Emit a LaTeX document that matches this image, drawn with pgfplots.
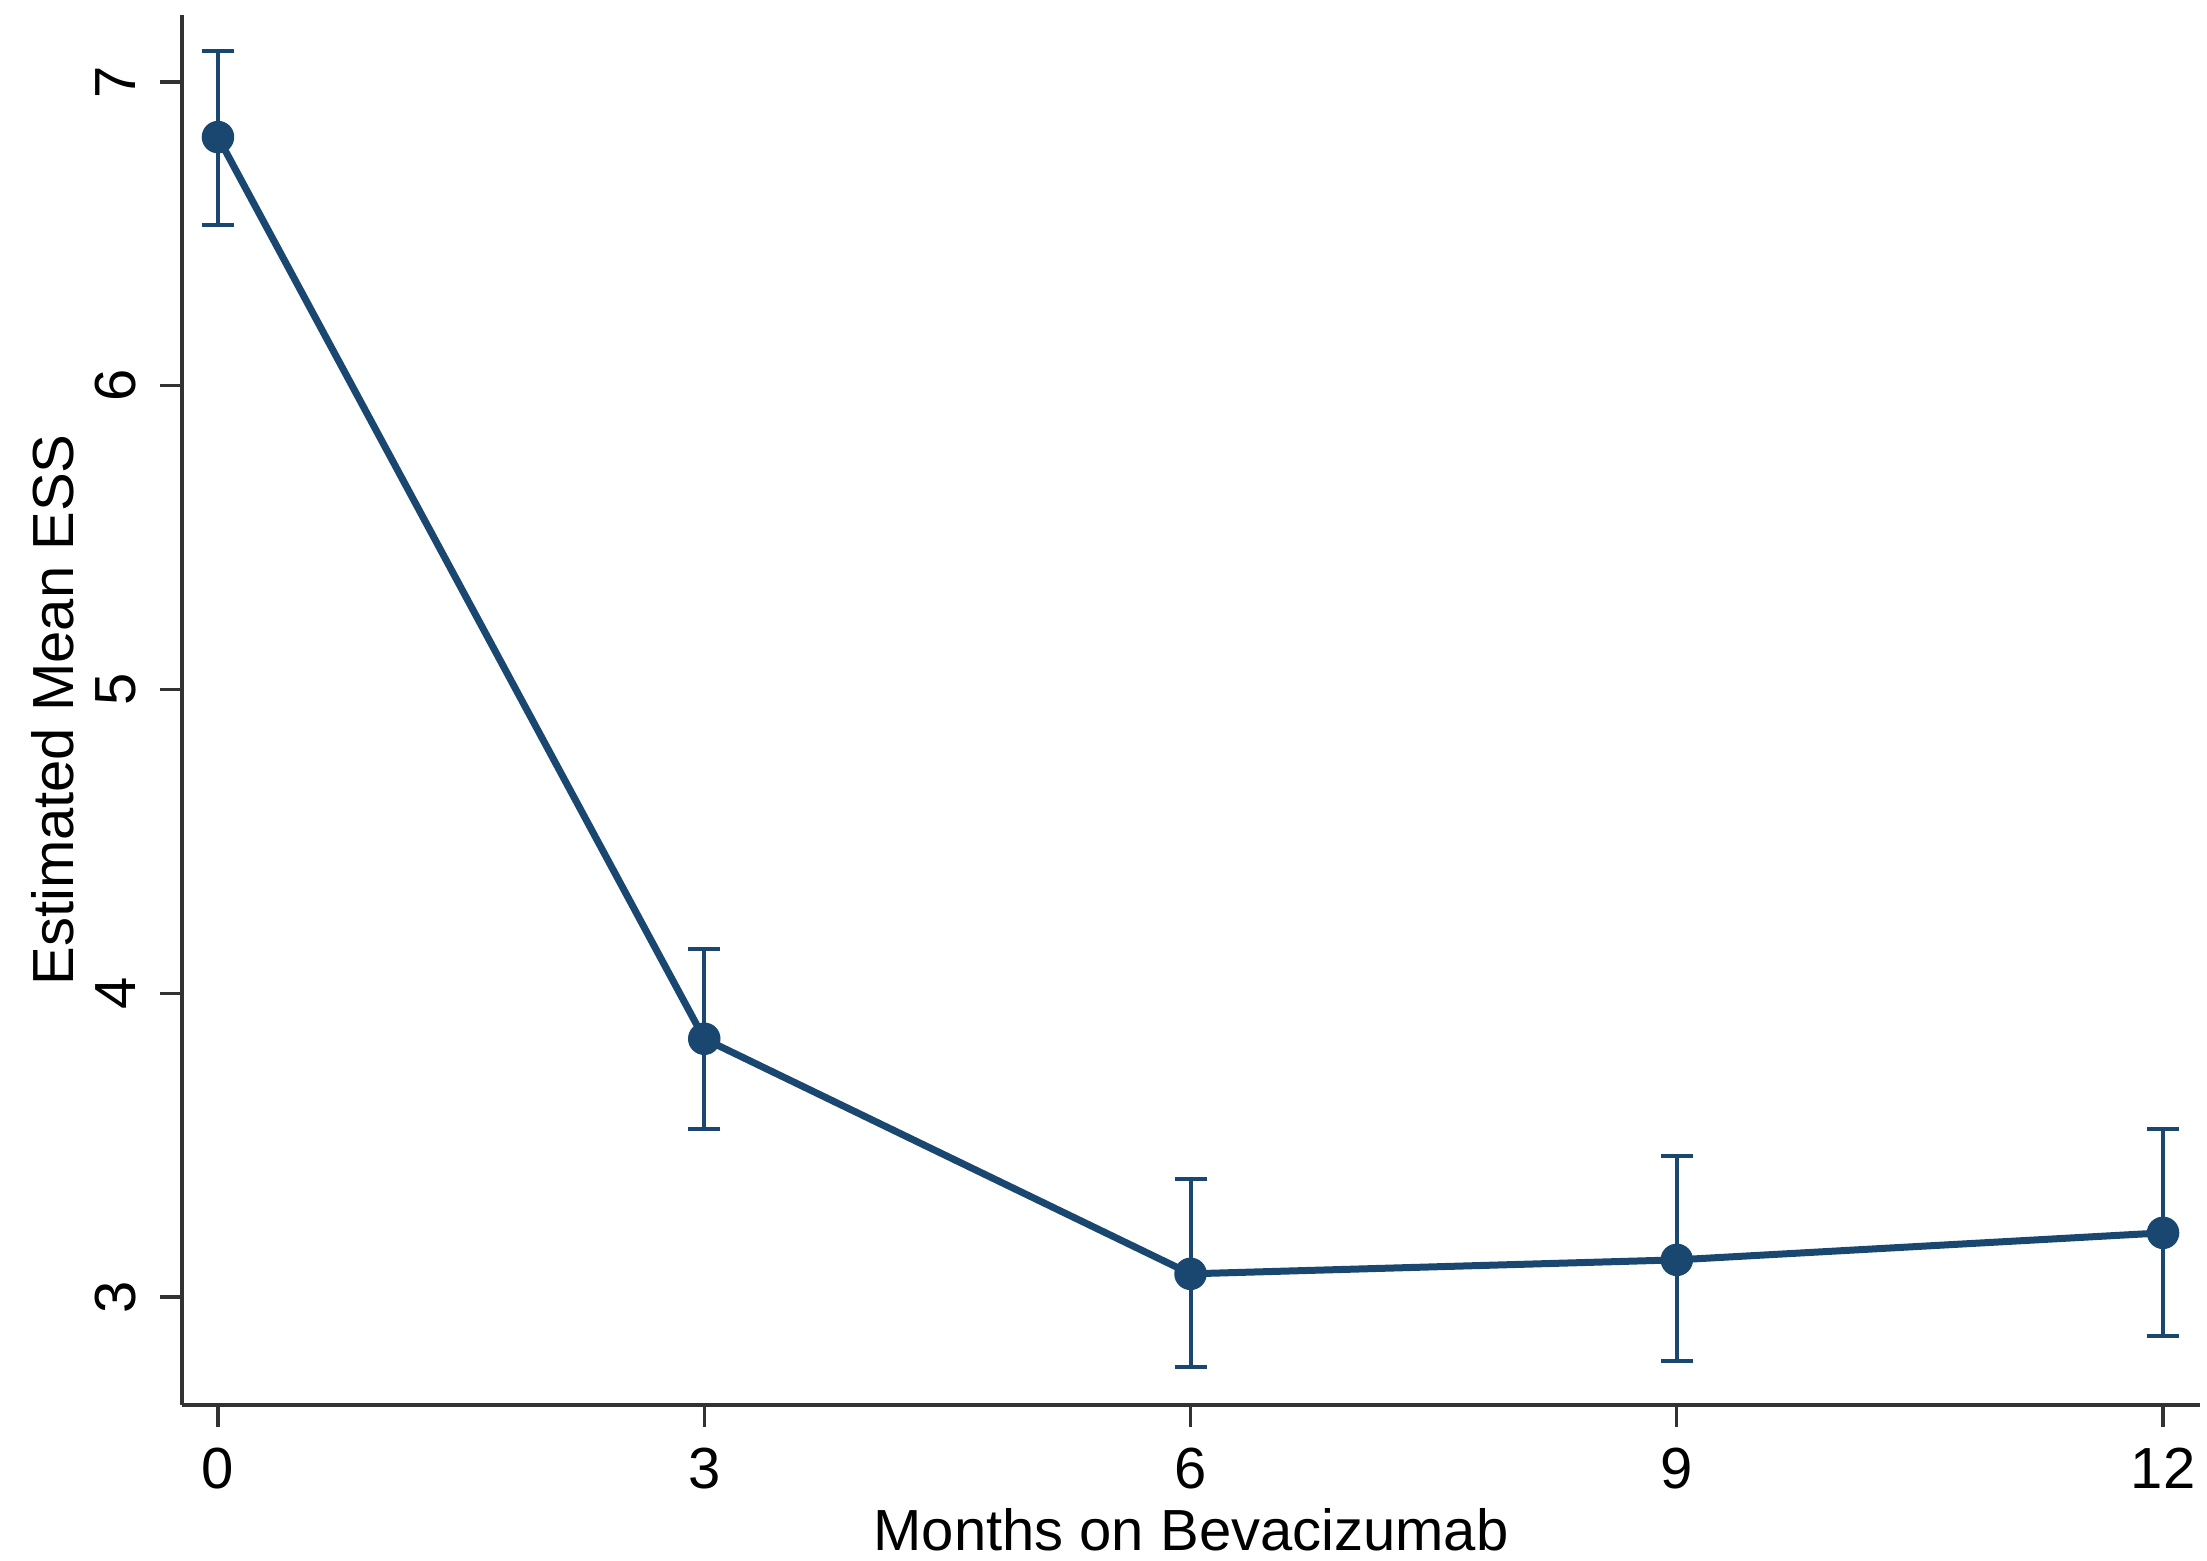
\documentclass[border=0pt]{standalone}
\usepackage{fontspec}
\setmainfont{Liberation Sans}
\usepackage{pgfplots}
\pgfplotsset{compat=1.18}
\definecolor{statanavy}{RGB}{26,71,111}
\definecolor{axgray}{RGB}{50,50,50}
\begin{document}
\begin{tikzpicture}
\begin{axis}[
  scale only axis,
  width=403.6pt, height=278pt,
  xmin=-0.222, xmax=12.228,
  ymin=2.644, ymax=7.221,
  axis x line*=bottom, axis y line*=left,
  axis line style={axgray, line width=0.65pt},
  xtick={0,3,6,9,12}, ytick={3,4,5,6,7},
  tick align=outside, major tick length=4.4pt,
  tick style={axgray, line width=0.65pt},
  /pgf/number format/assume math mode=true,
  tick label style={font=\fontsize{11.6}{14}\selectfont},
  yticklabel style={rotate=90, anchor=south},
  xticklabel shift=0.7pt, yticklabel shift=1.3pt,
  label style={font=\fontsize{11.6}{14}\selectfont},
  xlabel={Months on Bevacizumab},
  ylabel={Estimated Mean ESS},
  xlabel style={at={([yshift=-17.1pt]axis description cs:0.5,0)}, anchor=north},
  ylabel style={at={([xshift=-18.1pt]axis description cs:0,0.5)}, anchor=south, rotate=0},
  clip=false,
]
\addplot[statanavy, draw=none, mark=none,
  error bars/.cd, y dir=both, y explicit,
  error bar style={statanavy, line width=0.8pt},
  error mark options={rotate=90, mark size=3.2pt, statanavy, line width=0.8pt}]
  table[x=x, y=y, y error plus=ep, y error minus=em] {
x  y     ep    em
0  6.819 0.283 0.290
3  3.850 0.297 0.296
6  3.076 0.313 0.307
9  3.122 0.343 0.333
12 3.211 0.343 0.340
};
\addplot[statanavy, line width=1.4pt, mark=*, mark size=3pt,
  mark options={fill=statanavy, draw=statanavy, line width=0.5pt}]
  table[x=x, y=y] {
x  y
0  6.819
3  3.850
6  3.076
9  3.122
12 3.211
};
\coordinate (ll) at (rel axis cs:0,0);
\coordinate (ur) at (rel axis cs:1,1);
\end{axis}
\pgfresetboundingbox
\path[use as bounding box] ([xshift=-36.4pt,yshift=-31pt]ll) rectangle ([xshift=1.4pt,yshift=3pt]ur);
\end{tikzpicture}
\end{document}
